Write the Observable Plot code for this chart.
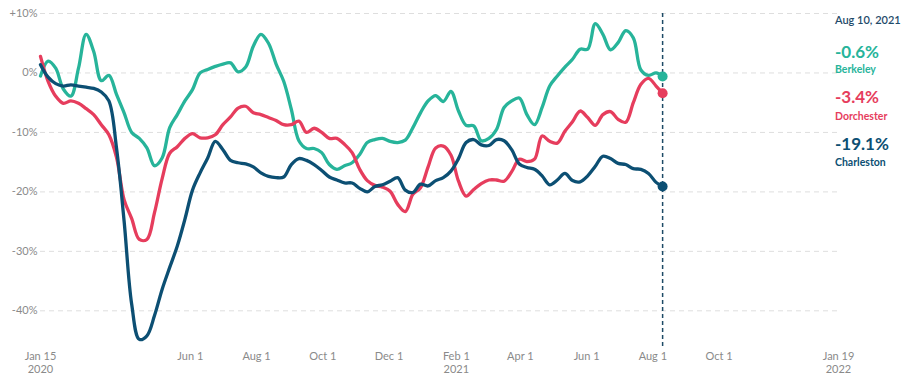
<!DOCTYPE html>
<html><head><meta charset="utf-8">
<script src="https://cdn.jsdelivr.net/npm/d3@7"></script>
<script src="https://cdn.jsdelivr.net/npm/@observablehq/plot@0.6"></script>
<style>
body{margin:0;background:#fff;font-family:Lato,"Open Sans",sans-serif;}
#wrap{position:relative;width:906px;height:381px;}
.ann{position:absolute;left:835px;white-space:nowrap;}
.date{font-size:11px;line-height:13px;font-weight:600;color:#1f4b6a;}
.val{font-size:17px;line-height:20px;font-weight:700;}
.nm{font-size:10.5px;line-height:13px;font-weight:700;}
</style></head><body><div id="wrap"></div>
<script>
const startDate = "2020-01-15";
const endDate = "2021-08-10";
const seriesNames = ["Berkeley", "Dorchester", "Charleston"];
const seriesColors = ["#27b49a", "#e63d5d", "#0c4f73"];

// weekly values from Jan 15 2020, last value = Aug 10 2021
const berkeley = [-0.5,2.0,0.8,-2.7,-3.9,0.8,6.5,3.6,-1.3,-0.4,-3.6,-6.7,-10,-11,
  -12.6,-15.6,-14.3,-9.2,-7,-4.7,-2.8,0,0.6,1.1,1.5,1.7,0.2,1.0,
  4.5,6.5,5,1.5,-1.4,-6.1,-11.4,-12.7,-12.7,-13.4,-15.4,-16.2,-15.6,
  -15.1,-13.7,-11.7,-11.2,-11.0,-11.5,-11.7,-11.3,-9.2,-6.7,-4.7,-3.8,-4.8,-3.1,
  -6.4,-8.8,-8.9,-11.4,-11.0,-9.5,-5.8,-4.7,-4.2,-7,-8.7,-5.8,-2.2,-0.5,
  1.0,2.3,4.0,4.0,8.3,6.5,3.9,5.1,7.1,5.9,0.5,-0.4,0,-0.6];
const dorchester = [2.8,-1.4,-3.9,-5.1,-4.7,-5.1,-6.0,-7.0,-8.7,-10.4,-14.2,-21.3,-24.5,-28,
  -28,-23.5,-17.8,-13.5,-12.4,-11.0,-10.2,-10.9,-10.9,-10.4,-8.7,-7.4,-5.9,-5.6,
  -6.7,-7.0,-7.5,-8.0,-8.7,-8.7,-8.1,-10,-9.3,-10,-11,-11,-12,
  -13.4,-16.2,-18.1,-18.9,-19.2,-19.9,-22.1,-23.3,-20.4,-19.3,-15.8,-12.6,-12.3,-13.8,
  -18.2,-20.7,-19.6,-18.6,-18,-18,-18.2,-16.6,-14.5,-14.9,-14.5,-10.6,-11.5,-11.8,
  -9.8,-8.2,-6.4,-7.5,-8.8,-7,-6.5,-7.8,-8.3,-5,-1.9,-0.9,-2.2,-3.4];
const charleston = [1.4,-0.7,-1.8,-2.2,-2.0,-2.2,-2.4,-2.6,-3.2,-4.7,-12.6,-24.9,-38.9,-44.8,
  -44.2,-40.8,-36.4,-32.7,-29.1,-24.6,-19.7,-16.8,-14.3,-11.5,-12.9,-14.7,-15.1,-15.3,
  -15.8,-16.8,-17.4,-17.6,-17.5,-15.4,-14.4,-14.7,-15.4,-16.4,-17.5,-18,-18.5,
  -18.5,-19.4,-20,-19.1,-18.8,-18.2,-17.6,-19.7,-20.1,-18.7,-19,-18.1,-17.6,-16.5,
  -14.4,-11.7,-11.2,-12.1,-12.2,-11.2,-11.4,-12.9,-15.3,-15.9,-16.2,-17.3,-18.8,-18.0,
  -16.9,-18.1,-18.3,-17.3,-15.7,-14,-14.4,-15.2,-15.4,-16.1,-16.2,-16.9,-18.4,-19.1];

const xTicks = ["2020-01-15","2020-06-01","2020-08-01","2020-10-01","2020-12-01","2021-02-01","2021-04-01","2021-06-01","2021-08-01","2021-10-01","2022-01-19"];
const xTickLabels = ["Jan 15\n2020","Jun 1","Aug 1","Oct 1","Dec 1","Feb 1\n2021","Apr 1","Jun 1","Aug 1","Oct 1","Jan 19\n2022"];
const yTicks = [10, 0, -10, -20, -30, -40];

const allSeries = [berkeley, dorchester, charleston];
const start = new Date(startDate), end = new Date(endDate);
const rows = [];
allSeries.forEach((vals, s) => {
  vals.forEach((v, i) => {
    const date = i < vals.length - 1 ? d3.utcDay.offset(start, 7 * i) : end;
    rows.push({date, value: v, name: seriesNames[s]});
  });
});
const lastRows = allSeries.map((vals, s) => ({date: end, value: vals[vals.length - 1], name: seriesNames[s]}));

const tickDates = xTicks.map(d => new Date(d));
const labelMap = new Map(tickDates.map((d, i) => [d.getTime(), xTickLabels[i]]));

const chart = Plot.plot({
  width: 906, height: 381,
  marginLeft: 40, marginRight: 68, marginTop: 13, marginBottom: 35,
  x: {type: "utc", domain: [new Date(xTicks[0]), new Date(xTicks[xTicks.length - 1])]},
  y: {domain: [-46, 10]},
  color: {domain: seriesNames, range: seriesColors},
  style: {fontFamily: "Lato, 'Open Sans', sans-serif", fontSize: "11px", color: "#888", background: "#fff"},
  marks: [
    Plot.ruleY(yTicks, {stroke: "#dedede", strokeDasharray: "5,4", strokeWidth: 1}),
    Plot.axisY({ticks: yTicks, tickSize: 0, tickPadding: 3, label: null, fill: "#8a8a8a",
      tickFormat: d => (d > 0 ? "+" : "") + d + "%"}),
    Plot.axisX({ticks: tickDates, tickSize: 0, tickPadding: 4, label: null, fill: "#8a8a8a", lineHeight: 1.2,
      tickFormat: d => labelMap.get(d.getTime())}),
    Plot.ruleX([end], {stroke: "#1d4a66", strokeDasharray: "4,3", strokeWidth: 1.5}),
    Plot.line(rows, {x: "date", y: "value", z: "name", stroke: "name", strokeWidth: 3.3, curve: "catmull-rom"}),
    Plot.dot(lastRows, {x: "date", y: "value", fill: "name", r: 5})
  ]
});

const wrap = document.getElementById("wrap");
wrap.appendChild(chart);

const fmt = v => (v > 0 ? "+" : "") + v.toFixed(1) + "%";
const dateLabel = "Aug 10, 2021";
const annTops = [[42, 62.5], [87, 109.5], [134, 155.5]];
function addDiv(cls, text, top, color) {
  const d = document.createElement("div");
  d.className = "ann " + cls;
  d.textContent = text;
  d.style.top = top + "px";
  if (color) d.style.color = color;
  wrap.appendChild(d);
}
addDiv("date", dateLabel, 12.5);
allSeries.forEach((vals, s) => {
  addDiv("val", fmt(vals[vals.length - 1]), annTops[s][0], seriesColors[s]);
  addDiv("nm", seriesNames[s], annTops[s][1], seriesColors[s]);
});
</script>
</body></html>
